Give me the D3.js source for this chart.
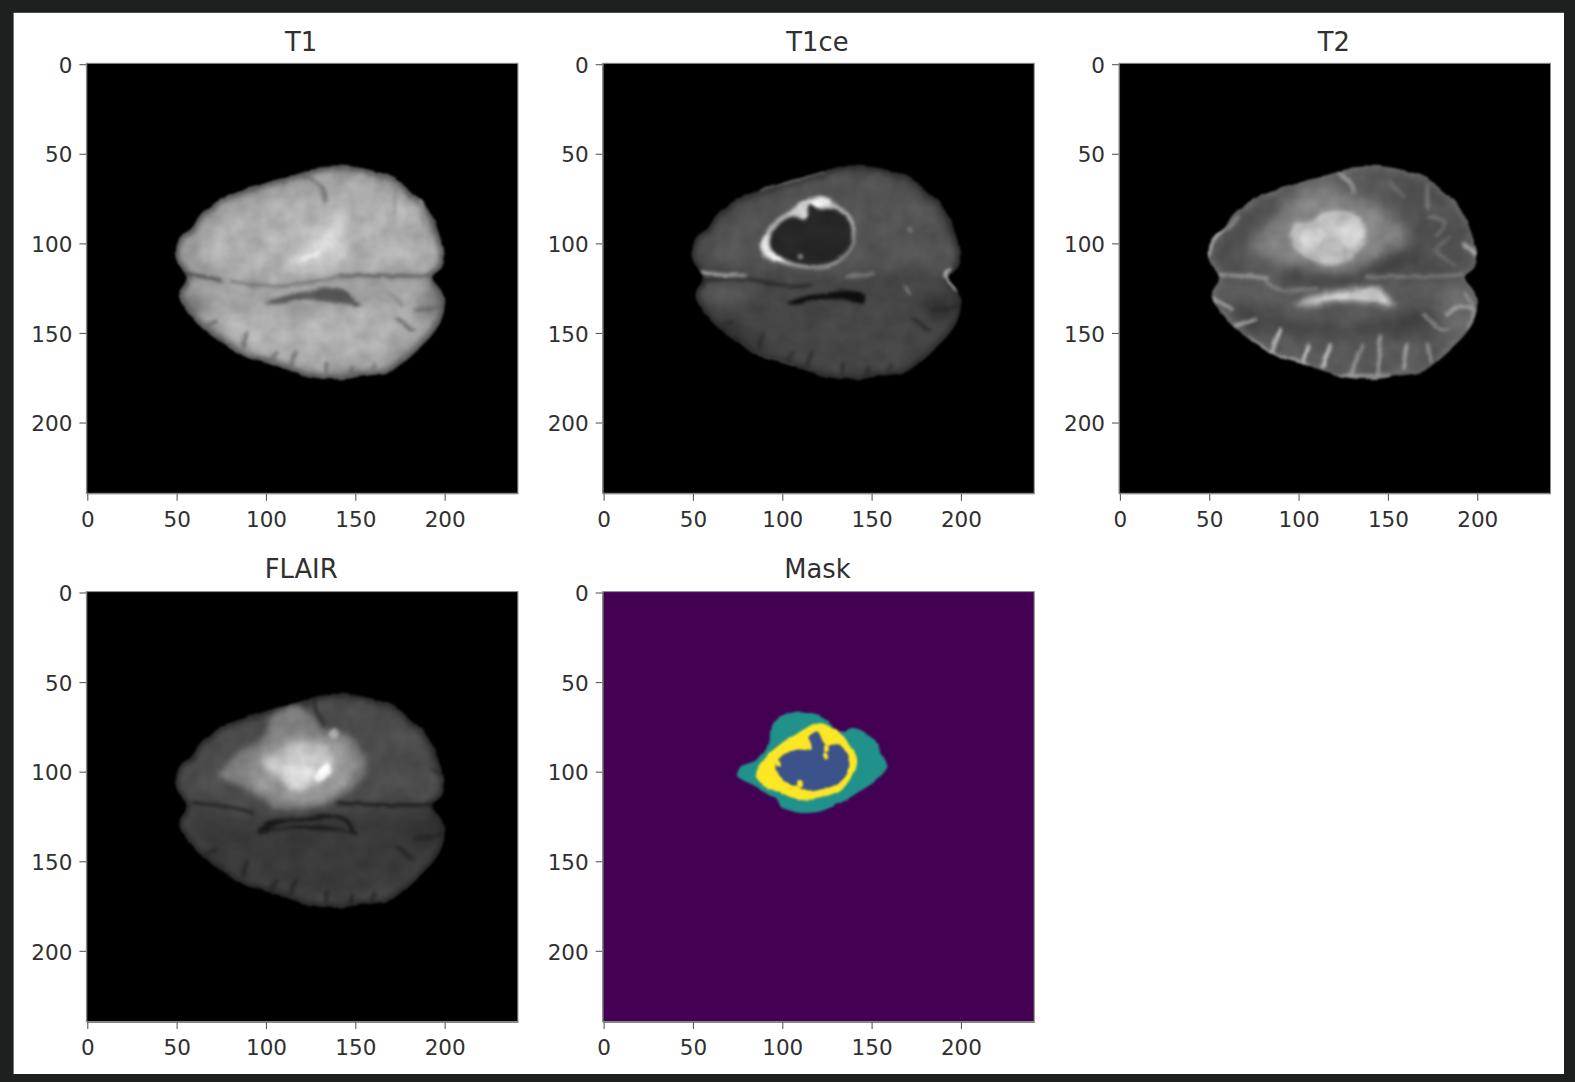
<!DOCTYPE html>
<html>
<head>
<meta charset="utf-8">
<script src="https://d3js.org/d3.v7.min.js"></script>
<style>
  html, body { margin: 0; background: #1e1f1f; }
  svg { display: block; }
  text { font-family: "DejaVu Sans", sans-serif; fill: #303030; }
  .tick text { font-size: 21.5px; fill: #303030; }
  .title { font-size: 25.8px; text-anchor: middle; }
</style>
</head>
<body>
<div id="chart"></div>
<script>
// tick labels and titles
var tickValues = [0, 50, 100, 150, 200];
var titles = ["T1", "T1ce", "T2", "FLAIR", "Mask"];

// image pixels: [x, y] on the 240 x 240 slice
var outline = [[48.8,105.4],[50.7,97],[58.1,91.4],[62.8,84],[72,76.6],[86.9,70.1],[105.5,64.5],[120.3,60.8],[129.6,57.1],[142.6,56.7],[157.5,59],[170.5,63.6],[181.6,72],[190.9,83.1],[195.5,94.2],[198.7,107.2],[196.5,114.7],[191.8,118.9],[197.4,127.7],[198.3,138.8],[192.7,149.9],[181.6,161.1],[168.6,171.3],[153.7,174.1],[137,175.9],[122.2,174.1],[105.5,168.5],[86.9,162.9],[72,153.6],[60.9,144.4],[53.5,135.1],[50.7,127.7],[54.4,121.2],[55.3,118.6],[50.7,111.9]];

// dark folds along the lower edge, the same in T1, T1ce and FLAIR
var sulci = [
  [[72,143],[65.5,146.2]],
  [[88.7,150],[86.9,157.4]],
  [[105.4,161],[102.7,167.6]],
  [[116,161],[112.9,167.6]],
  [[133.1,167],[132.4,173.2]],
  [[147.6,170],[146.3,174.1]],
  [[160,168],[158,172.5]],
  [[172.3,142.5],[181.6,148.1]],
  [[183,137.5],[196.5,135.1]]
];

// each region or line is [grey value 0-255, points]
var t1Soft = [
  [176, [[64.6,96.1],[90.6,79.4],[124,70.1],[164.9,70.1],[187.2,94.2],[189,110.9],[138.9,116.5],[96.2,120.2],[72,112.8]]],
  [176, [[57.2,135.1],[90.6,137],[127.8,138.8],[164.9,135.1],[181.6,131.4],[183.5,144.4],[155.6,162.9],[118.5,166.6],[90.6,157.4],[66.5,144.4]]],
  [120, [[51.6,127.7],[66.5,131.4],[62.8,140.7],[54.4,135.1]]],
  [130, [[189,122],[198.3,127.7],[196.5,140.7],[183.5,135.1]]],
  [202, [[138.9,83.1],[144.5,88.7],[143.5,103.5],[135.2,111.9],[112.9,112.8],[109.2,107.2],[122.2,98],[133.3,88.7]]]
];
var t1Mid = [
  [226, [[135.2,96.1],[138,99.8],[131.5,107.2],[122.2,110],[114.7,110],[122.2,103.5],[129.6,99.8]]]
];
var t1Sharp = [
  [252, [[131.5,103.5],[126,108.2],[118.5,108.7],[126,105.4]]],
  [88, [[99,133.2],[109.2,129.5],[122.2,126.7],[138.9,124.9],[144.5,127.7],[151.9,135.1],[138.9,133.6],[122.2,131.4],[109.2,133.6]]]
];
var t1Lines = [
  [118, [[79.5,121.2],[96.2,123.9],[109.2,123.9],[127.8,121.2],[140.7,118.4]]],
  [92, [[140.7,118.4],[164.9,118],[192.7,118.6]]],
  [72, [[54.4,116.9],[66.5,119],[74,120.4]]],
  [112, [[122.2,61.7],[129.6,68.2],[132.4,76.6]]],
  [142, [[171.4,68.2],[170.5,83.1]]],
  [138, [[176,135],[168,128]]],
  [142, [[185,75],[188,90]]]
];

var t1ceSoft = [
  [84, [[52,105],[65,88],[88,74],[125,62],[160,62],[190,90],[197,112],[150,116],[100,116],[60,112]]],
  [86, [[54,124],[80,124],[78,134],[58,134]]],
  [58, [[58,140],[80,146],[100,160],[80,158],[66,152]]],
  [52, [[178,128],[194,130],[192,142],[180,140]]]
];
var t1ceSharp = [
  [188, [[87.1,101.7],[91.8,91.4],[102.9,82.2],[113.1,75.7],[122.4,73.8],[131.7,79.4],[138.2,87.7],[140,97],[136.3,105.4],[128,111.9],[115,113.7],[102,111.9],[90.8,108.2]]],
  [236, [[87.5,102],[89.5,96],[93,96],[94,103],[100,108.5],[99,110.5],[91,107]]],
  [236, [[108,79.5],[113,75.5],[122,74],[127,77],[121,80],[114,79]]],
  [205, [[104,84],[112,78],[114,86],[109,87]]],
  [38, [[92.3,100],[95,91.5],[105,85],[113,86.5],[114,78],[120.5,81],[128.5,80.5],[136,87.5],[138.8,97],[134.6,105.8],[126.4,111],[115,112.4],[103,109.8],[94.5,105]]],
  [170, [[108.5,105.6],[110.5,106],[110.5,108],[108.5,108]]],
  [14, [[102,133.6],[109.4,130.4],[124.2,127.7],[137.2,126.4],[144.7,129.5],[144.7,134.2],[133.5,131.4],[118.7,131.7],[107.5,134.2]]]
];
var t1ceLines = [
  [190, [[54.6,116.1],[63,117.4],[78.8,118.4]]],
  [130, [[135.4,118.7],[150.2,117.4]]],
  [205, [[193,114.7],[190,118],[196.7,125.8]]],
  [40, [[54,121],[78,119.6],[100,124],[115,124]]],
  [120, [[87,70],[122,60]]],
  [130, [[72.3,157.4],[90,165],[105.7,169.4]]],
  [150, [[170,92],[171.5,93]]],
  [125, [[168,124],[170,128]]]
];

var t2Soft = [
  [80, [[55,100],[70,82],[86,74],[88,90],[76,100],[72,112],[54,112]]],
  [80, [[150,62],[175,66],[195,100],[195,116],[160,116],[160,90]]],
  [66, [[62,134],[90,142],[130,146],[170,136],[175,148],[140,152],[100,152],[70,146]]],
  [60, [[92,114],[110,118],[130,116],[165,102],[170,106],[140,120],[110,124],[94,120]]],
  [132, [[73.4,102.6],[87.4,85],[97.6,72],[117,67.3],[130,73.8],[144.9,79.4],[156,90.5],[159.8,101.7],[148.6,105.4],[126.4,115.6],[107.8,114.7],[89.2,110.9]]],
  [112, [[190,123],[198,135],[196,145],[186,150],[180,135]]]
];
var t2Mid = [
  [178, [[94.8,96.1],[96.6,89.6],[107.8,87.7],[113.4,83.1],[128.2,83.1],[135.6,90.5],[136.6,98],[130.1,107.2],[117.1,111.9],[104.1,107.2],[96.6,101.7]]],
  [196, [[97.6,133.6],[111.5,128.6],[128.2,125.8],[143,124.3],[152.3,135.1],[139.3,132.9],[120.8,132.3],[107.8,134.7]]]
];
var t2Sharp = [
  [188, [[94.8,96.1],[96.6,89.6],[107.8,87.7],[113.4,83.1],[128.2,83.1],[135.6,90.5],[136.6,98],[130.1,107.2],[117.1,111.9],[104.1,107.2],[96.6,101.7]]],
  [200, [[100,96],[108,90],[114,94],[110,102],[102,102]]],
  [205, [[124,88],[132,88],[135,96],[128,104],[122,98]]],
  [196, [[110,104],[120,100],[124,108],[116,110]]],
  [204, [[108,132.5],[120,129],[130,127.5],[142,126],[149,133.5],[138,131.5],[122,131]]]
];
var t2Lines = [
  [185, [[64,146],[76,142]]],
  [215, [[84.6,160],[89.2,148]]],
  [225, [[101.3,169],[105,157.2]]],
  [225, [[112.4,169],[117,157.2]]],
  [160, [[128,173],[135,157]]],
  [170, [[143,173],[145,152]]],
  [170, [[158,170],[160,156]]],
  [165, [[173,166],[171,156]]],
  [185, [[182,140],[189.5,135],[197,137]]],
  [150, [[169,139],[175,146],[182,148]]],
  [125, [[171,68],[171,80]]],
  [118, [[172,85],[180,88],[176,96]]],
  [180, [[191,100],[198,106]]],
  [180, [[49,108],[52,98],[58,92]]],
  [180, [[52,131],[62,137]]],
  [140, [[66,85],[60,92]]],
  [160, [[122,61],[128,66],[130,72]]],
  [165, [[55,117.6],[72,118.4],[82,119.5]]],
  [130, [[137,119],[190,118]]],
  [125, [[80,120],[88,126],[110,125]]],
  [110, [[150,66],[158,74]]],
  [108, [[184,96],[176,104],[186,112]]],
  [170, [[72,154],[86,162],[105,168]]],
  [170, [[122,174],[150,174]]],
  [155, [[192,128],[197,138],[194,148]]]
];

var flairSoft = [
  [58, [[56,122],[100,126],[150,122],[196,122],[198,140],[165,166],[120,170],[70,150]]],
  [50, [[176,124],[196,126],[196,136],[184,140],[176,134]]]
];
var flairMid = [
  [128, [[73.9,102.6],[85,89.5],[99,80.3],[101.8,71],[112.9,63.6],[124,67.3],[131.5,76.6],[146.3,80.3],[153.7,91.4],[153.7,102.6],[142.6,112.8],[127.8,119.3],[112.9,121.1],[99.9,117.4],[86.9,108.1]]],
  [150, [[89,100],[98,88],[116,80],[135,82],[148,92],[147,103],[132,114],[112,116],[96,110]]],
  [192, [[98,93.3],[109.2,87.7],[116.6,84],[131.5,85.8],[137,93.3],[135.2,102.6],[124,109],[112.9,109],[105.5,101.6],[99,98.8]]],
  [230, [[109.2,98.8],[124,97],[125.9,106.3],[116.6,110],[111,106.3]]]
];
var flairSharp = [
  [254, [[133.3,95.1],[136.1,97.9],[129.6,106.3],[125.9,104.4]]],
  [175, [[134.2,79.3],[137,75.6],[140.7,79.3],[137,82]]],
  [26, [[94.3,133.8],[99.9,127.6],[118.5,125.8],[138.9,123.9],[146.3,128.6],[150,135],[138.9,133.2],[122.2,132.3],[109.2,132.3]]],
  [58, [[101.8,131.9],[109.2,128.9],[124,127.6],[138.9,125.8],[144.5,130.4],[146.3,133.7],[135.2,130.8],[118.5,130]]]
];
var flairLines = [
  [34, [[59,117.4],[81.3,120.2],[92,123]]],
  [26, [[139,117.8],[165,118.4],[192.7,118.9]]],
  [38, [[125.9,59.8],[128,68],[131.5,74.7]]],
  [44, [[52,95],[60,92]]],
  [44, [[192,98],[196,102]]]
];

// mask labels 0, 1, 2, 4; label 0 is the background of the panel
var maskEdema = [[74.2,102.6],[77,97],[85.3,93.3],[91.8,84.9],[93.7,73.8],[103.9,67.3],[115,66.9],[124.3,71],[130.8,77.5],[139.2,75.7],[148.4,80.3],[154,88.7],[157.4,97],[152.2,104.4],[141,111.9],[129.9,118.4],[115,123],[102,121.2],[94.6,114.7],[83.4,108.2]];
var maskEnhancing = [[84.3,101.7],[88,94.2],[97.3,85.4],[108.9,77.9],[120.6,72.4],[129.4,77],[136,83.5],[141,93.3],[138.7,102.6],[131.3,110.5],[118.7,114.7],[107.1,115.7],[95.9,111],[88,107.3]];
var maskCore = [[95.5,96.1],[99.2,90.5],[108.5,87.7],[115,87.7],[114.1,81.2],[118.7,77.5],[123.4,84.9],[130.8,84.9],[135.4,90.5],[136.4,98.9],[130.8,106.3],[120.6,110],[113.2,110.9],[105.7,107.2],[99.2,104.4]];
var maskSpecks = [
  [[123.5,85],[125,85.5],[125,89],[123.5,89]],
  [[123,89.5],[125,90],[125,92.5],[123,92.5]],
  [[108,105],[110.5,105],[110.5,108.5],[108,108.5]],
  [[95.5,93.5],[98,94.5],[98.5,97],[96,96.5]]
];
var maskLayers = [[2, maskEdema], [4, maskEnhancing], [1, maskCore]];

// panel placement
var panelW = 431.5, panelH = 430;
var colX = [86.4, 602.7, 1119], rowY = [63.3, 591.6];
var panelPos = [[0,0],[1,0],[2,0],[0,1],[1,1]];

var grey = d3.scaleLinear().domain([0, 255]).range(["#000000", "#ffffff"]);
var labelColor = function(v) { return d3.interpolateViridis(v / 4); };

var svg = d3.select("#chart").append("svg").attr("width", 1575).attr("height", 1082);
svg.append("rect").attr("width", 1575).attr("height", 1082).attr("fill", "#1e1f1f");
svg.append("rect").attr("x", 13.6).attr("y", 12.8).attr("width", 1550.4).attr("height", 1061.2).attr("fill", "#ffffff");

var xScale = d3.scaleLinear().domain([-0.5, 239.5]).range([0, panelW]);
var yScale = d3.scaleLinear().domain([-0.5, 239.5]).range([0, panelH]);
// tick positions in the reference run slightly tighter than the image pixels
var xTickScale = d3.scaleLinear().domain([-0.5, 241]).range([0, panelW]);
var closedPath = d3.line().x(function(d) { return xScale(d[0]); }).y(function(d) { return yScale(d[1]); }).curve(d3.curveCatmullRomClosed.alpha(0.5));
var openPath = d3.line().x(function(d) { return xScale(d[0]); }).y(function(d) { return yScale(d[1]); }).curve(d3.curveCatmullRom.alpha(0.5));

var defs = svg.append("defs");
defs.append("clipPath").attr("id", "brain").append("path").attr("d", closedPath(outline));

function addFilter(id) {
  return defs.append("filter").attr("id", id)
      .attr("filterUnits", "userSpaceOnUse")
      .attr("x", 0).attr("y", 0).attr("width", panelW).attr("height", panelH)
      .attr("color-interpolation-filters", "sRGB");
}
[["blur-soft", 7], ["blur-wide", 3], ["blur-mid", 1.5], ["blur-line", 1.6]].forEach(function(f) {
  addFilter(f[0]).append("feGaussianBlur").attr("stdDeviation", f[1]);
});

// wobbly edges and a cloudy grain so the slice does not look like flat shapes
var tissue = addFilter("tissue");
tissue.append("feTurbulence").attr("type", "fractalNoise").attr("baseFrequency", 0.06).attr("numOctaves", 2).attr("seed", 4).attr("result", "warp");
tissue.append("feDisplacementMap").attr("in", "SourceGraphic").attr("in2", "warp").attr("scale", 4).attr("xChannelSelector", "R").attr("yChannelSelector", "G").attr("result", "moved");
tissue.append("feTurbulence").attr("type", "fractalNoise").attr("baseFrequency", 0.05).attr("numOctaves", 3).attr("seed", 11).attr("result", "cloud");
tissue.append("feColorMatrix").attr("in", "cloud").attr("type", "matrix")
    .attr("values", "1 0 0 0 0 1 0 0 0 0 1 0 0 0 0 0 0 0 0 1").attr("result", "cloudGrey");
tissue.append("feComposite").attr("in", "moved").attr("in2", "cloudGrey").attr("operator", "arithmetic")
    .attr("k1", 0.26).attr("k2", 0.87).attr("k3", 0).attr("k4", 0).attr("result", "grain");
tissue.append("feGaussianBlur").attr("in", "grain").attr("stdDeviation", 1);

var lumpy = addFilter("lumpy");
lumpy.append("feTurbulence").attr("type", "fractalNoise").attr("baseFrequency", 0.07).attr("numOctaves", 2).attr("seed", 7).attr("result", "warp");
lumpy.append("feDisplacementMap").attr("in", "SourceGraphic").attr("in2", "warp").attr("scale", 4).attr("xChannelSelector", "R").attr("yChannelSelector", "G").attr("result", "moved");
lumpy.append("feGaussianBlur").attr("in", "moved").attr("stdDeviation", 0.8);

function drawRegions(g, regions, filter) {
  g.append("g").attr("filter", "url(#" + filter + ")")
    .selectAll("path").data(regions).enter().append("path")
      .attr("d", function(d) { return closedPath(d[1]); })
      .attr("fill", function(d) { return grey(d[0]); });
}

function drawLines(g, lines, width) {
  g.append("g").attr("filter", "url(#blur-line)")
    .selectAll("path").data(lines).enter().append("path")
      .attr("d", function(d) { return openPath(d[1]); })
      .attr("fill", "none")
      .attr("stroke-linecap", "round")
      .attr("stroke-width", width)
      .attr("stroke", function(d) { return grey(d[0]); });
}

function drawBrain(g, o) {
  var soft = g.append("g").attr("filter", "url(#tissue)").append("g").attr("clip-path", "url(#brain)");
  soft.append("path").attr("d", closedPath(outline)).attr("fill", grey(o.base));
  drawRegions(soft, o.soft, "blur-soft");
  // the rim of the slice fades or brightens
  soft.append("path").attr("d", closedPath(outline))
      .attr("fill", "none").attr("stroke", grey(o.rim)).attr("stroke-width", o.rimWidth)
      .attr("filter", "url(#blur-wide)");
  drawLines(soft, sulci.map(function(s) { return [o.sulcus, s]; }), 3.4);
  drawLines(soft, o.lines, 3);
  drawRegions(soft, o.mid, "blur-wide");
  drawRegions(soft, o.sharp, "blur-mid");
}

function drawMask(g) {
  g.append("rect").attr("width", panelW).attr("height", panelH).attr("fill", labelColor(0));
  var m = g.append("g").attr("filter", "url(#lumpy)");
  m.selectAll("path.layer").data(maskLayers).enter().append("path")
      .attr("class", "layer")
      .attr("d", function(d) { return closedPath(d[1]); })
      .attr("fill", function(d) { return labelColor(d[0]); });
  m.selectAll("path.speck").data(maskSpecks).enter().append("path")
      .attr("class", "speck")
      .attr("d", closedPath)
      .attr("fill", labelColor(4));
}

var brains = [
  {base: 160, rim: 70, rimWidth: 8, sulcus: 108, soft: t1Soft, mid: t1Mid, sharp: t1Sharp, lines: t1Lines},
  {base: 70, rim: 34, rimWidth: 6, sulcus: 44, soft: t1ceSoft, mid: [], sharp: t1ceSharp, lines: t1ceLines},
  {base: 90, rim: 112, rimWidth: 4, sulcus: 90, soft: t2Soft, mid: t2Mid, sharp: t2Sharp, lines: t2Lines},
  {base: 76, rim: 28, rimWidth: 6, sulcus: 36, soft: flairSoft, mid: flairMid, sharp: flairSharp, lines: flairLines}
];

titles.forEach(function(title, i) {
  var g = svg.append("g")
      .attr("transform", "translate(" + colX[panelPos[i][0]] + "," + rowY[panelPos[i][1]] + ")");

  if (i < 4) {
    g.append("rect").attr("width", panelW).attr("height", panelH).attr("fill", "#000000");
    drawBrain(g, brains[i]);
  } else {
    drawMask(g);
  }

  // axes
  var xAxis = d3.axisBottom(xTickScale).tickValues(tickValues).tickSize(7.5).tickPadding(11).tickSizeOuter(0);
  var yAxis = d3.axisLeft(yScale).tickValues(tickValues).tickSize(7).tickPadding(7).tickSizeOuter(0);
  g.append("g").attr("transform", "translate(0," + panelH + ")").call(xAxis);
  g.append("g").call(yAxis).selectAll("text").attr("dy", "0.38em");
  g.selectAll(".domain, .tick line").attr("stroke", "#5a5a5a").attr("stroke-width", 1.1);
  g.append("rect").attr("width", panelW).attr("height", panelH)
      .attr("fill", "none").attr("stroke", "#8c8c8c").attr("stroke-width", 1);

  g.append("text").attr("class", "title")
      .attr("x", panelW / 2 - 1).attr("y", i < 3 ? -12.5 : -13.5)
      .text(title);
});
</script>
</body>
</html>
